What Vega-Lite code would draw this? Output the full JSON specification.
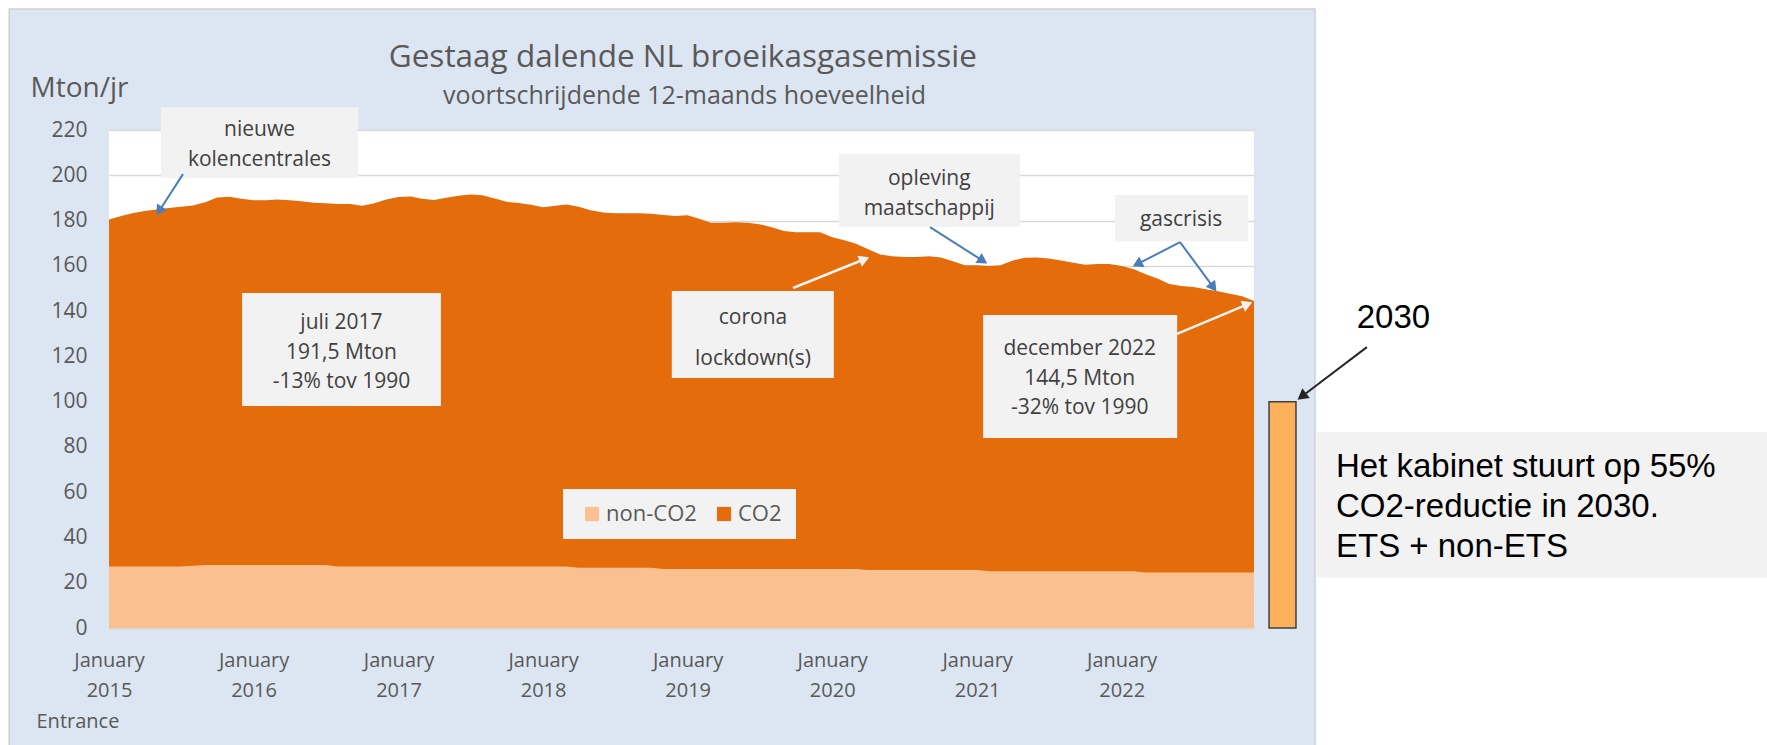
{
  "$schema": "https://vega.github.io/schema/vega-lite/v6.json",
  "width": 1145,
  "height": 498,
  "autosize": {"type": "none"},
  "padding": {"left": 109, "top": 130, "right": 513, "bottom": 117},
  "background": "#DCE6F2",
  "view": {"fill": "white", "stroke": null},
  "config": {
    "font": "Open Sans",
    "axisX": {
      "tickCount": {"interval": "month", "step": 1},
      "labelExpr": "utcmonth(datum.value) === 0 ? ['January', utcFormat(datum.value, '%Y')] : ''",
      "labelFlush": false, "labelOverlap": false, "labelBound": false,
      "labelFont": "Open Sans", "labelFontSize": 20, "labelColor": "#595959", "labelLineHeight": 30, "labelBaseline": "top", "labelPadding": 28,
      "ticks": true, "tickSize": -6, "tickColor": "#E4E4E4", "tickWidth": 1.5,
      "domain": true, "domainColor": "#D9D9D9", "domainWidth": 2, "grid": false, "zindex": 1,
      "titleFont": "Open Sans", "titleFontSize": 20, "titleFontWeight": "normal", "titleColor": "#595959",
      "titleX": -73, "titleY": 99, "titleAlign": "left", "titleBaseline": "alphabetic", "titleAngle": 0
    },
    "axisY": {
      "labelFont": "Open Sans", "labelFontSize": 21, "labelColor": "#595959", "labelPadding": 22, "labelOverlap": false, "labelAlign": "right",
      "ticks": false, "domain": false, "grid": true, "gridColor": "#D9D9D9", "gridWidth": 1.5, "zindex": 0,
      "titleFont": "Open Sans", "titleFontSize": 28, "titleFontWeight": "normal", "titleColor": "#595959",
      "titleAngle": 0, "titleX": -79, "titleY": -34, "titleAlign": "left", "titleBaseline": "alphabetic"
    }
  },
  "datasets": {
    "emissie": [
      {"maand": "2015-01-01", "totaal": 180.5, "nonCO2": 27.2},
      {"maand": "2015-02-01", "totaal": 182.0, "nonCO2": 27.2},
      {"maand": "2015-03-01", "totaal": 183.2, "nonCO2": 27.2},
      {"maand": "2015-04-01", "totaal": 184.2, "nonCO2": 27.2},
      {"maand": "2015-05-01", "totaal": 184.9, "nonCO2": 27.2},
      {"maand": "2015-06-01", "totaal": 185.5, "nonCO2": 27.2},
      {"maand": "2015-07-01", "totaal": 186.1, "nonCO2": 27.2},
      {"maand": "2015-08-01", "totaal": 186.7, "nonCO2": 27.5},
      {"maand": "2015-09-01", "totaal": 188.1, "nonCO2": 27.8},
      {"maand": "2015-10-01", "totaal": 190.2, "nonCO2": 27.8},
      {"maand": "2015-11-01", "totaal": 190.5, "nonCO2": 27.8},
      {"maand": "2015-12-01", "totaal": 189.6, "nonCO2": 27.8},
      {"maand": "2016-01-01", "totaal": 189.0, "nonCO2": 27.8},
      {"maand": "2016-02-01", "totaal": 189.0, "nonCO2": 27.8},
      {"maand": "2016-03-01", "totaal": 189.3, "nonCO2": 27.8},
      {"maand": "2016-04-01", "totaal": 189.0, "nonCO2": 27.8},
      {"maand": "2016-05-01", "totaal": 188.5, "nonCO2": 27.8},
      {"maand": "2016-06-01", "totaal": 187.9, "nonCO2": 27.8},
      {"maand": "2016-07-01", "totaal": 187.6, "nonCO2": 27.8},
      {"maand": "2016-08-01", "totaal": 187.3, "nonCO2": 27.2},
      {"maand": "2016-09-01", "totaal": 187.3, "nonCO2": 27.2},
      {"maand": "2016-10-01", "totaal": 186.5, "nonCO2": 27.2},
      {"maand": "2016-11-01", "totaal": 187.6, "nonCO2": 27.2},
      {"maand": "2016-12-01", "totaal": 189.3, "nonCO2": 27.2},
      {"maand": "2017-01-01", "totaal": 190.4, "nonCO2": 27.2},
      {"maand": "2017-02-01", "totaal": 190.6, "nonCO2": 27.2},
      {"maand": "2017-03-01", "totaal": 189.6, "nonCO2": 27.2},
      {"maand": "2017-04-01", "totaal": 189.1, "nonCO2": 27.2},
      {"maand": "2017-05-01", "totaal": 190.1, "nonCO2": 27.2},
      {"maand": "2017-06-01", "totaal": 190.9, "nonCO2": 27.2},
      {"maand": "2017-07-01", "totaal": 191.5, "nonCO2": 27.2},
      {"maand": "2017-08-01", "totaal": 191.2, "nonCO2": 27.2},
      {"maand": "2017-09-01", "totaal": 189.7, "nonCO2": 27.2},
      {"maand": "2017-10-01", "totaal": 188.3, "nonCO2": 27.2},
      {"maand": "2017-11-01", "totaal": 187.8, "nonCO2": 27.2},
      {"maand": "2017-12-01", "totaal": 187.0, "nonCO2": 27.2},
      {"maand": "2018-01-01", "totaal": 185.9, "nonCO2": 27.2},
      {"maand": "2018-02-01", "totaal": 186.5, "nonCO2": 27.2},
      {"maand": "2018-03-01", "totaal": 187.1, "nonCO2": 27.2},
      {"maand": "2018-04-01", "totaal": 186.1, "nonCO2": 26.6},
      {"maand": "2018-05-01", "totaal": 184.5, "nonCO2": 26.6},
      {"maand": "2018-06-01", "totaal": 183.6, "nonCO2": 26.6},
      {"maand": "2018-07-01", "totaal": 183.2, "nonCO2": 26.6},
      {"maand": "2018-08-01", "totaal": 183.2, "nonCO2": 26.6},
      {"maand": "2018-09-01", "totaal": 183.2, "nonCO2": 26.6},
      {"maand": "2018-10-01", "totaal": 183.0, "nonCO2": 26.6},
      {"maand": "2018-11-01", "totaal": 182.5, "nonCO2": 26.1},
      {"maand": "2018-12-01", "totaal": 182.0, "nonCO2": 26.1},
      {"maand": "2019-01-01", "totaal": 182.3, "nonCO2": 26.1},
      {"maand": "2019-02-01", "totaal": 180.7, "nonCO2": 26.1},
      {"maand": "2019-03-01", "totaal": 179.0, "nonCO2": 26.1},
      {"maand": "2019-04-01", "totaal": 179.0, "nonCO2": 26.1},
      {"maand": "2019-05-01", "totaal": 179.3, "nonCO2": 26.1},
      {"maand": "2019-06-01", "totaal": 179.0, "nonCO2": 26.1},
      {"maand": "2019-07-01", "totaal": 178.4, "nonCO2": 26.1},
      {"maand": "2019-08-01", "totaal": 177.0, "nonCO2": 26.1},
      {"maand": "2019-09-01", "totaal": 175.4, "nonCO2": 26.1},
      {"maand": "2019-10-01", "totaal": 174.8, "nonCO2": 26.1},
      {"maand": "2019-11-01", "totaal": 174.8, "nonCO2": 26.1},
      {"maand": "2019-12-01", "totaal": 174.8, "nonCO2": 26.1},
      {"maand": "2020-01-01", "totaal": 172.6, "nonCO2": 26.1},
      {"maand": "2020-02-01", "totaal": 171.3, "nonCO2": 26.1},
      {"maand": "2020-03-01", "totaal": 169.8, "nonCO2": 26.1},
      {"maand": "2020-04-01", "totaal": 167.3, "nonCO2": 25.6},
      {"maand": "2020-05-01", "totaal": 165.0, "nonCO2": 25.6},
      {"maand": "2020-06-01", "totaal": 164.2, "nonCO2": 25.6},
      {"maand": "2020-07-01", "totaal": 163.9, "nonCO2": 25.6},
      {"maand": "2020-08-01", "totaal": 163.9, "nonCO2": 25.6},
      {"maand": "2020-09-01", "totaal": 164.2, "nonCO2": 25.6},
      {"maand": "2020-10-01", "totaal": 163.7, "nonCO2": 25.6},
      {"maand": "2020-11-01", "totaal": 162.0, "nonCO2": 25.6},
      {"maand": "2020-12-01", "totaal": 160.3, "nonCO2": 25.6},
      {"maand": "2021-01-01", "totaal": 160.3, "nonCO2": 25.6},
      {"maand": "2021-02-01", "totaal": 159.9, "nonCO2": 25.1},
      {"maand": "2021-03-01", "totaal": 160.3, "nonCO2": 25.1},
      {"maand": "2021-04-01", "totaal": 162.4, "nonCO2": 25.1},
      {"maand": "2021-05-01", "totaal": 163.6, "nonCO2": 25.1},
      {"maand": "2021-06-01", "totaal": 163.7, "nonCO2": 25.1},
      {"maand": "2021-07-01", "totaal": 163.2, "nonCO2": 25.1},
      {"maand": "2021-08-01", "totaal": 162.4, "nonCO2": 25.1},
      {"maand": "2021-09-01", "totaal": 161.4, "nonCO2": 25.1},
      {"maand": "2021-10-01", "totaal": 160.5, "nonCO2": 25.1},
      {"maand": "2021-11-01", "totaal": 160.8, "nonCO2": 25.1},
      {"maand": "2021-12-01", "totaal": 160.8, "nonCO2": 25.1},
      {"maand": "2022-01-01", "totaal": 159.9, "nonCO2": 25.1},
      {"maand": "2022-02-01", "totaal": 158.5, "nonCO2": 25.1},
      {"maand": "2022-03-01", "totaal": 156.4, "nonCO2": 24.5},
      {"maand": "2022-04-01", "totaal": 154.4, "nonCO2": 24.5},
      {"maand": "2022-05-01", "totaal": 152.0, "nonCO2": 24.5},
      {"maand": "2022-06-01", "totaal": 151.1, "nonCO2": 24.5},
      {"maand": "2022-07-01", "totaal": 150.6, "nonCO2": 24.5},
      {"maand": "2022-08-01", "totaal": 149.7, "nonCO2": 24.5},
      {"maand": "2022-09-01", "totaal": 148.8, "nonCO2": 24.5},
      {"maand": "2022-10-01", "totaal": 147.7, "nonCO2": 24.5},
      {"maand": "2022-11-01", "totaal": 146.6, "nonCO2": 24.5},
      {"maand": "2022-12-01", "totaal": 144.5, "nonCO2": 24.5}
    ],
    "marges": [
      {"start": "2012-01-01", "eind": "2014-04-24", "boven": 300, "onder": -80},
      {"start": "2012-01-01", "eind": "2027-06-01", "boven": 300, "onder": 273.4},
      {"start": "2023-05-04", "eind": "2027-06-01", "boven": 300, "onder": -80}
    ],
    "paneel": [
      {"start": "2014-04-24", "eind": "2023-05-04", "boven": 273.4, "onder": -80}
    ],
    "kaders": [
      {"naam": "kolencentrales", "start": "2015-05-12", "eind": "2016-09-21", "boven": 230.1, "onder": 198.8},
      {"naam": "juli2017", "start": "2015-12-03", "eind": "2017-04-18", "boven": 148.0, "onder": 98.1},
      {"naam": "corona", "start": "2018-11-22", "eind": "2020-01-05", "boven": 148.9, "onder": 110.4},
      {"naam": "opleving", "start": "2020-01-18", "eind": "2021-04-19", "boven": 209.4, "onder": 177.1},
      {"naam": "gascrisis", "start": "2021-12-15", "eind": "2022-11-16", "boven": 191.3, "onder": 170.9},
      {"naam": "december2022", "start": "2021-01-16", "eind": "2022-05-21", "boven": 138.3, "onder": 83.9},
      {"naam": "kabinet", "start": "2023-05-07", "eind": "2027-06-01", "boven": 86.6, "onder": 22.3}
    ],
    "teksten": [
      {"t": "2016-01-16", "w": 217.3, "tekst": "nieuwe\nkolencentrales"},
      {"t": "2016-08-10", "w": 131.9, "tekst": "juli 2017\n191,5 Mton\n-13% tov 1990"},
      {"t": "2020-09-02", "w": 195.7, "tekst": "opleving\nmaatschappij"},
      {"t": "2022-05-31", "w": 177.6, "tekst": "gascrisis"},
      {"t": "2021-09-17", "w": 120.5, "tekst": "december 2022\n144,5 Mton\n-32% tov 1990"}
    ],
    "tekstCorona": [
      {"t": "2019-06-15", "w": 134.1, "tekst": "corona\nlockdown(s)"}
    ],
    "pijlenBlauw": [
      {"naam": "kolen", "t1": "2015-07-06T19:00:00Z", "w1": 200.5, "t2": "2015-05-07T17:00:00Z", "w2": 184.2},
      {"naam": "opleving", "t1": "2020-09-03T22:00:00Z", "w1": 177.1, "t2": "2021-01-15T12:00:00Z", "w2": 162.2},
      {"naam": "gas1", "t1": "2022-05-28T05:00:00Z", "w1": 170.5, "t2": "2022-02-09T07:00:00Z", "w2": 160.7},
      {"naam": "gas2", "t1": "2022-05-28T05:00:00Z", "w1": 170.5, "t2": "2022-08-20T12:00:00Z", "w2": 150.5}
    ],
    "pijlenWit": [
      {"naam": "corona", "t1": "2019-09-24T00:00:00Z", "w1": 150.2, "t2": "2020-03-22T07:00:00Z", "w2": 162.9},
      {"naam": "december", "t1": "2022-05-20T14:00:00Z", "w1": 129.9, "t2": "2022-11-14T12:00:00Z", "w2": 143.0}
    ],
    "pijl2030": [
      {"naam": "2030", "t1": "2023-09-12T00:00:00Z", "w1": 124.1, "t2": "2023-03-31T17:00:00Z", "w2": 102.3}
    ],
    "doel2030": [
      {"jaar": "2030", "start": "2023-01-08", "eind": "2023-03-17", "doel": 100}
    ]
  },
  "layer": [
    {
      "data": {"name": "emissie"},
      "mark": {"type": "area", "interpolate": "linear"},
      "encoding": {
        "x": {
          "field": "maand", "type": "temporal",
          "scale": {"type": "utc", "nice": false, "domain": [{"year": 2015, "month": 1, "date": 1, "utc": true}, {"year": 2022, "month": 12, "date": 1, "utc": true}]},
          "axis": {"title": "Entrance"}
        },
        "y": {
          "field": "totaal", "type": "quantitative",
          "scale": {"domain": [0, 220], "nice": false},
          "axis": {"title": "Mton/jr", "values": [0, 20, 40, 60, 80, 100, 120, 140, 160, 180, 200, 220]}
        },
        "color": {
          "datum": "CO2",
          "scale": {"domain": ["non-CO2", "CO2"], "range": ["#FAC090", "#E46C0A"]},
          "legend": {
            "orient": "none", "legendX": 454, "legendY": 359, "direction": "horizontal", "title": null,
            "fillColor": "#F2F2F2", "padding": 14, "symbolType": "square", "symbolSize": 200, "symbolStrokeWidth": 0,
            "symbolOffset": 4, "labelFont": "Open Sans", "labelFontSize": 22, "labelColor": "#595959", "labelOffset": 3, "columnPadding": 12
          }
        }
      }
    },
    {
      "data": {"name": "emissie"},
      "mark": {"type": "area", "interpolate": "linear"},
      "encoding": {
        "x": {"field": "maand", "type": "temporal", "axis": {"title": "Entrance"}},
        "y": {"field": "nonCO2", "type": "quantitative", "axis": {"title": "Mton/jr", "values": [0, 20, 40, 60, 80, 100, 120, 140, 160, 180, 200, 220]}},
        "color": {"datum": "non-CO2"}
      }
    },
    {
      "data": {"name": "marges"},
      "mark": {"type": "rect", "color": "white"},
      "encoding": {
        "x": {"field": "start", "type": "temporal", "axis": {"title": "Entrance"}},
        "x2": {"field": "eind"},
        "y": {"field": "boven", "type": "quantitative", "axis": {"title": "Mton/jr", "values": [0, 20, 40, 60, 80, 100, 120, 140, 160, 180, 200, 220]}},
        "y2": {"field": "onder"}
      }
    },
    {
      "data": {"name": "paneel"},
      "mark": {"type": "rect", "filled": false, "stroke": "#D0D0D0", "strokeWidth": 1.5},
      "encoding": {
        "x": {"field": "start", "type": "temporal", "axis": {"title": "Entrance"}},
        "x2": {"field": "eind"},
        "y": {"field": "boven", "type": "quantitative", "axis": {"title": "Mton/jr", "values": [0, 20, 40, 60, 80, 100, 120, 140, 160, 180, 200, 220]}},
        "y2": {"field": "onder"}
      }
    },
    {
      "data": {"name": "kaders"},
      "mark": {"type": "rect", "color": "#F2F2F2"},
      "encoding": {
        "x": {"field": "start", "type": "temporal", "axis": {"title": "Entrance"}},
        "x2": {"field": "eind"},
        "y": {"field": "boven", "type": "quantitative", "axis": {"title": "Mton/jr", "values": [0, 20, 40, 60, 80, 100, 120, 140, 160, 180, 200, 220]}},
        "y2": {"field": "onder"}
      }
    },
    {
      "data": {"name": "doel2030"},
      "mark": {"type": "rect", "fill": "#FDB05B", "stroke": "#404040", "strokeWidth": 1.5},
      "encoding": {
        "x": {"field": "start", "type": "temporal", "axis": {"title": "Entrance"}},
        "x2": {"field": "eind"},
        "y": {"field": "doel", "type": "quantitative", "axis": {"title": "Mton/jr", "values": [0, 20, 40, 60, 80, 100, 120, 140, 160, 180, 200, 220]}},
        "y2": {"datum": 0}
      }
    },
    {
      "data": {"name": "pijlenBlauw"},
      "mark": {"type": "rule", "color": "#4A7EBB", "strokeWidth": 2},
      "encoding": {
        "x": {"field": "t1", "type": "temporal", "axis": {"title": "Entrance"}},
        "x2": {"field": "t2"},
        "y": {"field": "w1", "type": "quantitative", "axis": {"title": "Mton/jr", "values": [0, 20, 40, 60, 80, 100, 120, 140, 160, 180, 200, 220]}},
        "y2": {"field": "w2"}
      }
    },
    {
      "data": {"name": "pijlenWit"},
      "mark": {"type": "rule", "color": "#F2F2F2", "strokeWidth": 2.5},
      "encoding": {
        "x": {"field": "t1", "type": "temporal", "axis": {"title": "Entrance"}},
        "x2": {"field": "t2"},
        "y": {"field": "w1", "type": "quantitative", "axis": {"title": "Mton/jr", "values": [0, 20, 40, 60, 80, 100, 120, 140, 160, 180, 200, 220]}},
        "y2": {"field": "w2"}
      }
    },
    {
      "data": {"name": "pijl2030"},
      "mark": {"type": "rule", "color": "#262626", "strokeWidth": 2},
      "encoding": {
        "x": {"field": "t1", "type": "temporal", "axis": {"title": "Entrance"}},
        "x2": {"field": "t2"},
        "y": {"field": "w1", "type": "quantitative", "axis": {"title": "Mton/jr", "values": [0, 20, 40, 60, 80, 100, 120, 140, 160, 180, 200, 220]}},
        "y2": {"field": "w2"}
      }
    },
    {
      "data": {"name": "pijlenBlauw"},
      "transform": [{"filter": "datum.naam === 'kolen'"}],
      "mark": {"type": "point", "shape": "triangle-up", "filled": true, "size": 140, "angle": 212.7, "color": "#4A7EBB", "opacity": 1},
      "encoding": {"x": {"field": "t2", "type": "temporal", "axis": {"title": "Entrance"}}, "y": {"field": "w2", "type": "quantitative", "axis": {"title": "Mton/jr", "values": [0, 20, 40, 60, 80, 100, 120, 140, 160, 180, 200, 220]}}}
    },
    {
      "data": {"name": "pijlenBlauw"},
      "transform": [{"filter": "datum.naam === 'opleving'"}],
      "mark": {"type": "point", "shape": "triangle-up", "filled": true, "size": 140, "angle": 122.5, "color": "#4A7EBB", "opacity": 1},
      "encoding": {"x": {"field": "t2", "type": "temporal", "axis": {"title": "Entrance"}}, "y": {"field": "w2", "type": "quantitative", "axis": {"title": "Mton/jr", "values": [0, 20, 40, 60, 80, 100, 120, 140, 160, 180, 200, 220]}}}
    },
    {
      "data": {"name": "pijlenBlauw"},
      "transform": [{"filter": "datum.naam === 'gas1'"}],
      "mark": {"type": "point", "shape": "triangle-up", "filled": true, "size": 140, "angle": 242.5, "color": "#4A7EBB", "opacity": 1},
      "encoding": {"x": {"field": "t2", "type": "temporal", "axis": {"title": "Entrance"}}, "y": {"field": "w2", "type": "quantitative", "axis": {"title": "Mton/jr", "values": [0, 20, 40, 60, 80, 100, 120, 140, 160, 180, 200, 220]}}}
    },
    {
      "data": {"name": "pijlenBlauw"},
      "transform": [{"filter": "datum.naam === 'gas2'"}],
      "mark": {"type": "point", "shape": "triangle-up", "filled": true, "size": 140, "angle": 143.5, "color": "#4A7EBB", "opacity": 1},
      "encoding": {"x": {"field": "t2", "type": "temporal", "axis": {"title": "Entrance"}}, "y": {"field": "w2", "type": "quantitative", "axis": {"title": "Mton/jr", "values": [0, 20, 40, 60, 80, 100, 120, 140, 160, 180, 200, 220]}}}
    },
    {
      "data": {"name": "pijlenWit"},
      "transform": [{"filter": "datum.naam === 'corona'"}],
      "mark": {"type": "point", "shape": "triangle-up", "filled": true, "size": 140, "angle": 68.1, "color": "#F2F2F2", "opacity": 1},
      "encoding": {"x": {"field": "t2", "type": "temporal", "axis": {"title": "Entrance"}}, "y": {"field": "w2", "type": "quantitative", "axis": {"title": "Mton/jr", "values": [0, 20, 40, 60, 80, 100, 120, 140, 160, 180, 200, 220]}}}
    },
    {
      "data": {"name": "pijlenWit"},
      "transform": [{"filter": "datum.naam === 'december'"}],
      "mark": {"type": "point", "shape": "triangle-up", "filled": true, "size": 140, "angle": 67.2, "color": "#F2F2F2", "opacity": 1},
      "encoding": {"x": {"field": "t2", "type": "temporal", "axis": {"title": "Entrance"}}, "y": {"field": "w2", "type": "quantitative", "axis": {"title": "Mton/jr", "values": [0, 20, 40, 60, 80, 100, 120, 140, 160, 180, 200, 220]}}}
    },
    {
      "data": {"name": "pijl2030"},
      "mark": {"type": "point", "shape": "triangle-up", "filled": true, "size": 150, "angle": 232.9, "color": "#262626", "opacity": 1},
      "encoding": {"x": {"field": "t2", "type": "temporal", "axis": {"title": "Entrance"}}, "y": {"field": "w2", "type": "quantitative", "axis": {"title": "Mton/jr", "values": [0, 20, 40, 60, 80, 100, 120, 140, 160, 180, 200, 220]}}}
    },
    {
      "data": {"name": "teksten"},
      "mark": {"type": "text", "align": "center", "baseline": "alphabetic", "lineBreak": "\n", "lineHeight": 29.5, "font": "Open Sans", "fontSize": 21, "color": "#404040"},
      "encoding": {
        "x": {"field": "t", "type": "temporal", "axis": {"title": "Entrance"}},
        "y": {"field": "w", "type": "quantitative", "axis": {"title": "Mton/jr", "values": [0, 20, 40, 60, 80, 100, 120, 140, 160, 180, 200, 220]}},
        "text": {"field": "tekst", "type": "nominal"}
      }
    },
    {
      "data": {"name": "tekstCorona"},
      "mark": {"type": "text", "align": "center", "baseline": "alphabetic", "lineBreak": "\n", "lineHeight": 41, "font": "Open Sans", "fontSize": 21, "color": "#404040"},
      "encoding": {
        "x": {"field": "t", "type": "temporal", "axis": {"title": "Entrance"}},
        "y": {"field": "w", "type": "quantitative", "axis": {"title": "Mton/jr", "values": [0, 20, 40, 60, 80, 100, 120, 140, 160, 180, 200, 220]}},
        "text": {"field": "tekst", "type": "nominal"}
      }
    },
    {
      "data": {"values": [{}]},
      "mark": {"type": "text", "align": "center", "baseline": "alphabetic", "font": "Open Sans", "fontSize": 31.5, "color": "#595959", "text": "Gestaag dalende NL broeikasgasemissie"},
      "encoding": {
        "x": {"datum": {"year": 2018, "month": 12, "date": 20, "utc": true}, "type": "temporal", "axis": {"title": "Entrance"}},
        "y": {"datum": 247.9, "type": "quantitative", "axis": {"title": "Mton/jr", "values": [0, 20, 40, 60, 80, 100, 120, 140, 160, 180, 200, 220]}}
      }
    },
    {
      "data": {"values": [{}]},
      "mark": {"type": "text", "align": "center", "baseline": "alphabetic", "font": "Open Sans", "fontSize": 25, "color": "#595959", "text": "voortschrijdende 12-maands hoeveelheid"},
      "encoding": {
        "x": {"datum": {"year": 2018, "month": 12, "date": 24, "utc": true}, "type": "temporal", "axis": {"title": "Entrance"}},
        "y": {"datum": 231.7, "type": "quantitative", "axis": {"title": "Mton/jr", "values": [0, 20, 40, 60, 80, 100, 120, 140, 160, 180, 200, 220]}}
      }
    },
    {
      "data": {"values": [{}]},
      "mark": {"type": "text", "align": "center", "baseline": "alphabetic", "font": "Liberation Sans", "fontSize": 33, "color": "#000000", "text": "2030"},
      "encoding": {
        "x": {"datum": {"year": 2023, "month": 11, "date": 18, "utc": true}, "type": "temporal", "axis": {"title": "Entrance"}},
        "y": {"datum": 132.4, "type": "quantitative", "axis": {"title": "Mton/jr", "values": [0, 20, 40, 60, 80, 100, 120, 140, 160, 180, 200, 220]}}
      }
    },
    {
      "data": {"values": [{}]},
      "mark": {"type": "text", "align": "left", "baseline": "alphabetic", "font": "Liberation Sans", "fontSize": 33, "lineHeight": 40, "lineBreak": "\n", "color": "#000000", "text": "Het kabinet stuurt op 55%\nCO2-reductie in 2030.\nETS + non-ETS"},
      "encoding": {
        "x": {"datum": {"year": 2023, "month": 6, "date": 26, "utc": true}, "type": "temporal", "axis": {"title": "Entrance"}},
        "y": {"datum": 66.8, "type": "quantitative", "axis": {"title": "Mton/jr", "values": [0, 20, 40, 60, 80, 100, 120, 140, 160, 180, 200, 220]}}
      }
    }
  ]
}
